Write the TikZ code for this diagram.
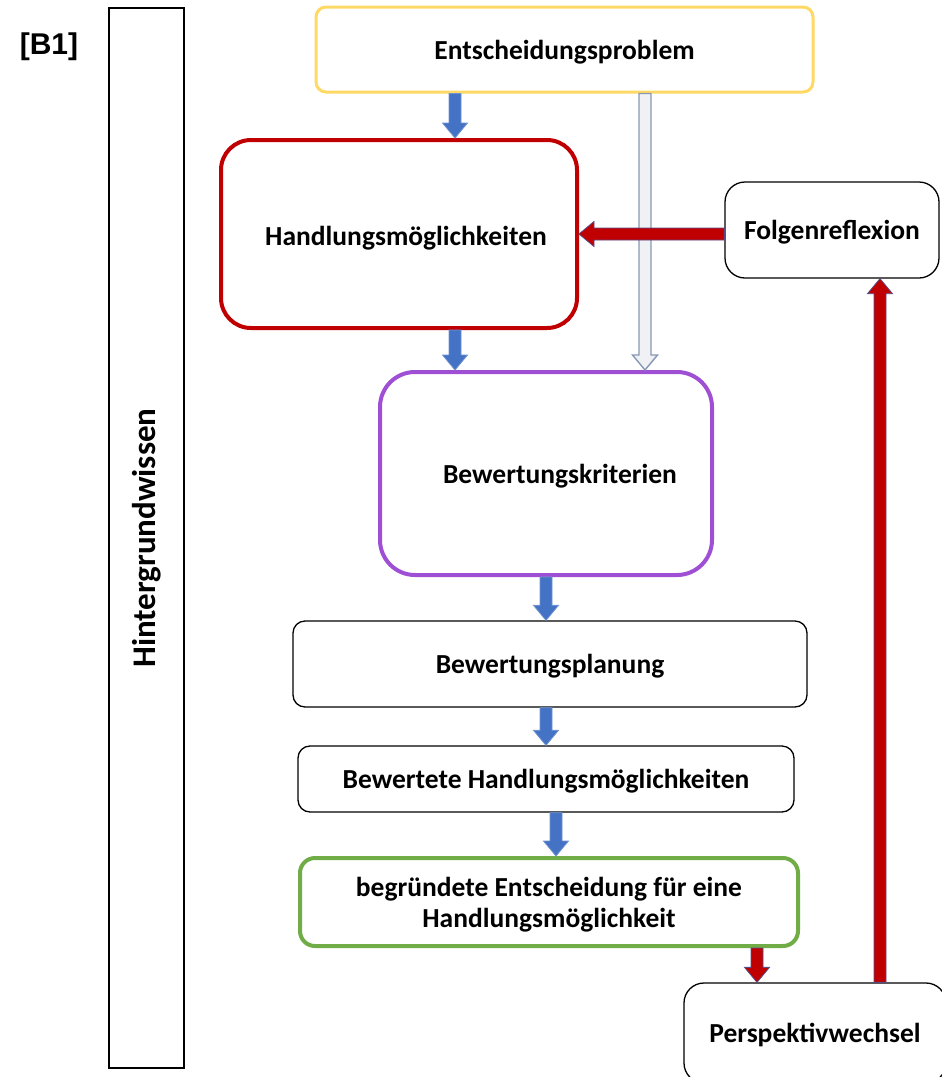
\documentclass[tikz,border=0pt]{standalone}
\usepackage{fontspec}
\setmainfont{Carlito}
\newfontfamily\arialfont{Liberation Sans}
\usetikzlibrary{calc, positioning}

\definecolor{probyellow}{HTML}{FFD966}
\definecolor{darkred}{HTML}{C00000}
\definecolor{critpurple}{HTML}{9E4FD4}
\definecolor{decgreen}{HTML}{70AD47}
\definecolor{arrblue}{HTML}{4472C4}
\definecolor{arrblueline}{HTML}{6F93D0}
\definecolor{arrredline}{HTML}{5A4A86}
\definecolor{arrgrey}{HTML}{F0F1F5}
\definecolor{arrgreyline}{HTML}{8898B4}

% block arrow from #2 to #3 (tip)
\newcommand{\blockarrow}[3][]{%
  \coordinate (ba-h) at ($(#3)!15pt!(#2)$);
  \draw[#1] ($(#2)!6pt!90:(#3)$) -- ($(ba-h)!6pt!90:(#3)$) -- ($(ba-h)!12.5pt!90:(#3)$)
    -- (#3) -- ($(ba-h)!12.5pt!-90:(#3)$) -- ($(ba-h)!6pt!-90:(#3)$) -- ($(#2)!6pt!-90:(#3)$) -- cycle;
}

\tikzset{
  box/.style={draw, rounded corners=#1, align=center, inner sep=2pt, text depth=0pt,
    font=\fontsize{27.5}{31}\selectfont\bfseries},
  box/.default=12pt,
  bluearrow/.style={fill=arrblue, draw=arrblueline, line width=0.8pt},
  redarrow/.style={fill=darkred, draw=arrredline, line width=0.8pt},
  greyarrow/.style={fill=arrgrey, draw=arrgreyline, line width=1.4pt},
}

\begin{document}
\begin{tikzpicture}[x=1pt, y=-1pt]
\useasboundingbox (0,0) rectangle (942,1077);

\node[font=\arialfont\fontsize{30}{34}\selectfont\bfseries] (label) at (49,47) {[B1]};
\node[draw, line width=1.2pt, rotate=90, minimum width=1060pt, minimum height=75pt,
  font=\fontsize{33}{38}\selectfont\bfseries] (hinter) at (146.5,538) {Hintergrundwissen};

% boxes
\node[box=10pt, draw=probyellow, line width=3pt, minimum width=497pt, minimum height=85pt]
  (entsch) at (564.5,49.5) {Entscheidungsproblem};
\node[box=30pt, draw=darkred, line width=4pt, minimum width=356pt, minimum height=188pt]
  (handl) at (399,234) {\hspace{14pt}\raisebox{-3pt}{Handlungsmöglichkeiten}};
\node[box=20pt, line width=1.3pt, minimum width=214pt, minimum height=96pt]
  (folgen) at (832,230) {Folgenreflexion};
\node[box=35pt, draw=critpurple, line width=4pt, minimum width=332pt, minimum height=203pt]
  (kriterien) at (546,473.5) {\hspace{28pt}Bewertungskriterien};
\node[box, line width=1.3pt, minimum width=514pt, minimum height=86pt]
  (planung) at (550,664) {Bewertungsplanung};
\node[box, line width=1.3pt, minimum width=496pt, minimum height=66pt]
  (bewertet) at (546,779) {Bewertete Handlungsmöglichkeiten};
\node[box=15pt, draw=decgreen, line width=4pt, minimum width=498pt, minimum height=88pt]
  (begruendet) at (549,902) {begründete Entscheidung für eine\\Handlungsmöglichkeit};
\node[box=20pt, line width=1.3pt, minimum width=262pt, minimum height=100pt]
  (perspektive) at (815,1033) {Perspektivwechsel};

% arrow end points
\coordinate (t1) at ($(handl.north)+(56,0)$);
\coordinate (s1) at (t1 |- entsch.south);
\coordinate (s2) at ($(handl.south)+(56,0)$);
\coordinate (t2) at (s2 |- kriterien.north);
\coordinate (s3) at ($(entsch.south)+(80.5,0)$);
\coordinate (t3) at (s3 |- kriterien.north);
\coordinate (s4) at ($(folgen.west)+(0,4)$);
\coordinate (t4) at (handl.east |- s4);
\coordinate (s5) at (kriterien.south);
\coordinate (t5) at (s5 |- planung.north);
\coordinate (s6) at ($(planung.south)+(-4,0)$);
\coordinate (t6) at (s6 |- bewertet.north);
\coordinate (s7) at ($(bewertet.south)+(10,0)$);
\coordinate (t7) at (s7 |- begruendet.north);
\coordinate (s8) at ($(begruendet.south)+(208,0)$);
\coordinate (t8) at (s8 |- perspektive.north);
\coordinate (s9) at ($(perspektive.north)+(65,0)$);
\coordinate (t9) at (s9 |- folgen.south);

% arrows
\blockarrow[greyarrow]{s3}{t3}
\blockarrow[bluearrow]{s1}{t1}
\blockarrow[bluearrow]{s2}{t2}
\blockarrow[redarrow]{s4}{t4}
\blockarrow[bluearrow]{s5}{t5}
\blockarrow[bluearrow]{s6}{t6}
\blockarrow[bluearrow]{s7}{t7}
\blockarrow[redarrow]{s8}{t8}
\blockarrow[redarrow]{s9}{t9}
\end{tikzpicture}
\end{document}
